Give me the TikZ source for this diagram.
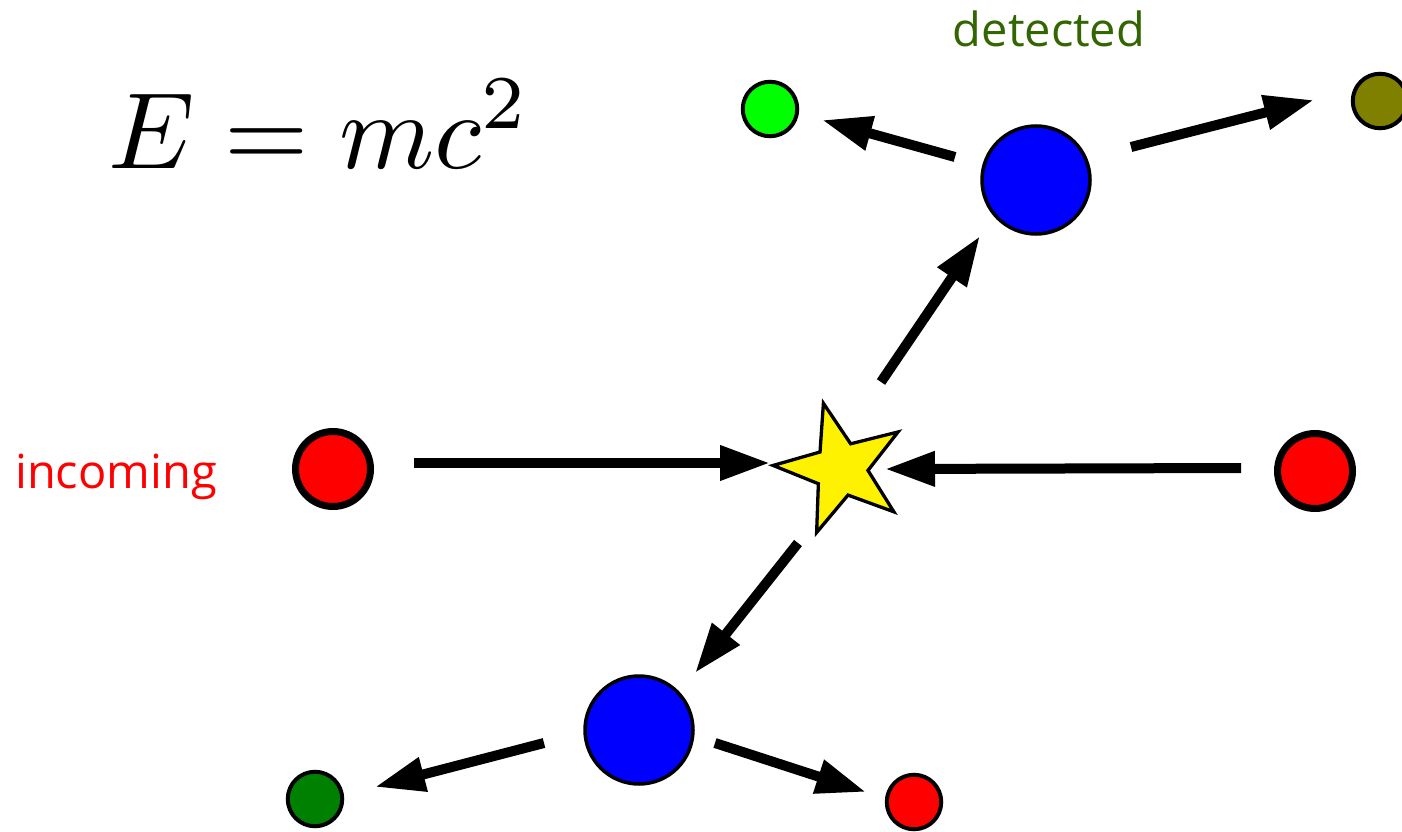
\documentclass[tikz,border=0pt]{standalone}
\usepackage{graphicx}
\usepackage{fontspec}
\newfontfamily\labelfont{Open Sans}
\usetikzlibrary{arrows.meta}
\definecolor{detgreen}{HTML}{336600}
\definecolor{olivec}{HTML}{808000}
\definecolor{darkg}{HTML}{008000}
\begin{document}
\begin{tikzpicture}[x=1pt,y=-1pt,
  ball/.style={circle,draw=black,inner sep=0pt},
  smallball/.style={ball,line width=4pt,minimum size=54.5pt},
  bigball/.style={ball,line width=3.5pt,minimum size=108pt},
  heavyball/.style={ball,line width=7pt,minimum size=75pt},
  arr/.style={line width=10pt,-{Triangle[length=50pt,width=33pt]}},
  lbl/.style={font=\labelfont\fontsize{47}{56}\selectfont,inner sep=0pt}
]
\useasboundingbox (0,0) rectangle (1402,832);
% formula and labels
\node[anchor=base west,inner sep=0pt] (eq) at (108,168) {\scalebox{10.85}{$E=mc^2$}};
\node[lbl,text=detgreen,anchor=base] (det) at (1049,47) {detected};
\node[lbl,text=red,anchor=base] (inc) at (116,488) {incoming};
% particles
\node[smallball,fill=green] (g1) at (770,109) {};
\node[smallball,fill=olivec] (ol) at (1380,101) {};
\node[bigball,fill=blue] (bt) at (1036,180) {};
\node[heavyball,fill=red] (rl) at (333,469) {};
\node[heavyball,fill=red] (rr) at (1315,471) {};
\node[bigball,fill=blue] (bb) at (639,730) {};
\node[smallball,fill=darkg] (dg) at (315,799) {};
\node[smallball,fill=red] (rb) at (914,802) {};
% star
\coordinate (star) at (841,469);
\draw[line width=3.3pt,fill=yellow,line join=miter,shift={(star)}]
  (-105:68) -- (-141:27) -- (-177:68) -- (-213:27) -- (-249:68) -- (-285:27)
  -- (-321:68) -- (-357:27) -- (-393:68) -- (-429:27) -- cycle;
% arrow end points
\coordinate (a1s) at (414,463); \coordinate (a1e) at (770,463);
\coordinate (a2s) at (1241,468); \coordinate (a2e) at (885,469);
\coordinate (a3s) at (881,382); \coordinate (a3e) at (980,236);
\coordinate (a4s) at (955,157); \coordinate (a4e) at (822,120);
\coordinate (a5s) at (1131,147); \coordinate (a5e) at (1314,100);
\coordinate (a6s) at (798,543); \coordinate (a6e) at (695,673);
\coordinate (a7s) at (544,743); \coordinate (a7e) at (375,787);
\coordinate (a8s) at (715,743); \coordinate (a8e) at (866,792);
\foreach \i in {1,...,8} {\draw[arr] (a\i s) -- (a\i e);}
\end{tikzpicture}
\end{document}
